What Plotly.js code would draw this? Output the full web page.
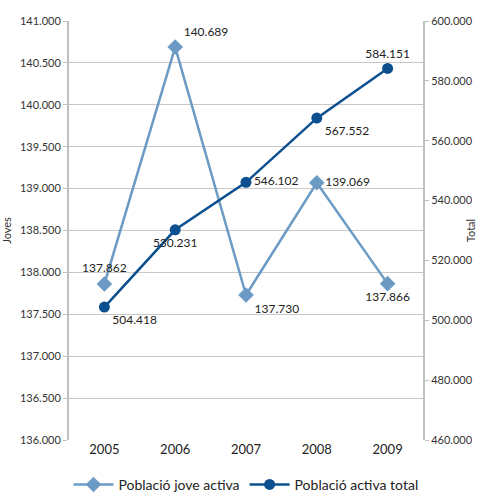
<!DOCTYPE html>
<html><head><meta charset="utf-8">
<script src="https://cdn.plot.ly/plotly-3.0.1.min.js"></script>
<style>html,body{margin:0;padding:0;background:#fff}</style>
</head><body>
<div id="chart" style="width:477px;height:501px"></div>
<script>
const years = ['2005','2006','2007','2008','2009'];
const joves = [137862, 140689, 137730, 139069, 137866];
const total = [504418, 530231, 546102, 567552, 584151];
const jovesName = 'Població jove activa';
const totalName = 'Població activa total';
const fmt = v => v.toLocaleString('de-DE');

const font = 'Lato, "Open Sans", sans-serif';
const data = [
  {x: years, y: joves, name: jovesName, type: 'scatter', mode: 'lines+markers+text',
   line: {color: '#6B9BC4', width: 2.5},
   marker: {symbol: 'diamond', size: 12, color: '#6B9BC4'},
   text: joves.map(fmt),
   textposition: ['top center','top right','bottom right','middle right','bottom center'],
   textfont: {family: font, size: 12, color: '#222'},
   cliponaxis: false, yaxis: 'y'},
  {x: years, y: total, name: totalName, type: 'scatter', mode: 'lines+markers+text',
   line: {color: '#0B4F8F', width: 2.5},
   marker: {symbol: 'circle', size: 11, color: '#0B4F8F'},
   text: total.map(fmt),
   textposition: ['bottom right','bottom center','middle right','bottom right','top center'],
   textfont: {family: font, size: 12, color: '#222'},
   cliponaxis: false, yaxis: 'y2'}
];
const layout = {
  width: 477, height: 501,
  margin: {l: 69, r: 54, t: 21, b: 61, autoexpand: false},
  paper_bgcolor: '#fff', plot_bgcolor: '#fff',
  separators: ',.',
  font: {family: font, size: 11, color: '#333'},
  showlegend: true,
  legend: {orientation: 'h', x: 0.5, xanchor: 'center', y: -0.107, yanchor: 'middle',
           font: {family: font, size: 14, color: '#222'}, tracegroupgap: 0, itemwidth: 40},
  xaxis: {type: 'category', range: [-0.5, 4.5], showgrid: false, ticks: '',
          showline: false, zeroline: false, tickfont: {size: 13, color: '#222'}},
  yaxis: {range: [136000, 141000], dtick: 500, tickformat: ',.0f',
          showgrid: true, gridcolor: '#c8c8c8', gridwidth: 1,
          showline: true, linecolor: '#c0c0c0', linewidth: 2, ticks: 'outside', ticklen: 4, tickcolor: '#c0c0c0',
          zeroline: false, tickfont: {size: 11, color: '#333'},
          title: {text: 'Joves', font: {size: 11, color: '#333'}, standoff: 14}},
  yaxis2: {range: [460000, 600000], dtick: 20000, tickformat: ',.0f', overlaying: 'y', side: 'right',
           showgrid: false, showline: true, linecolor: '#c0c0c0', linewidth: 2,
           ticks: 'outside', ticklen: 4, tickcolor: '#c0c0c0', zeroline: false,
           tickfont: {size: 11, color: '#333'},
           title: {text: 'Total', font: {size: 11, color: '#333'}, standoff: 8}}
};
Plotly.newPlot('chart', data, layout, {displayModeBar: false});
</script>
</body></html>
